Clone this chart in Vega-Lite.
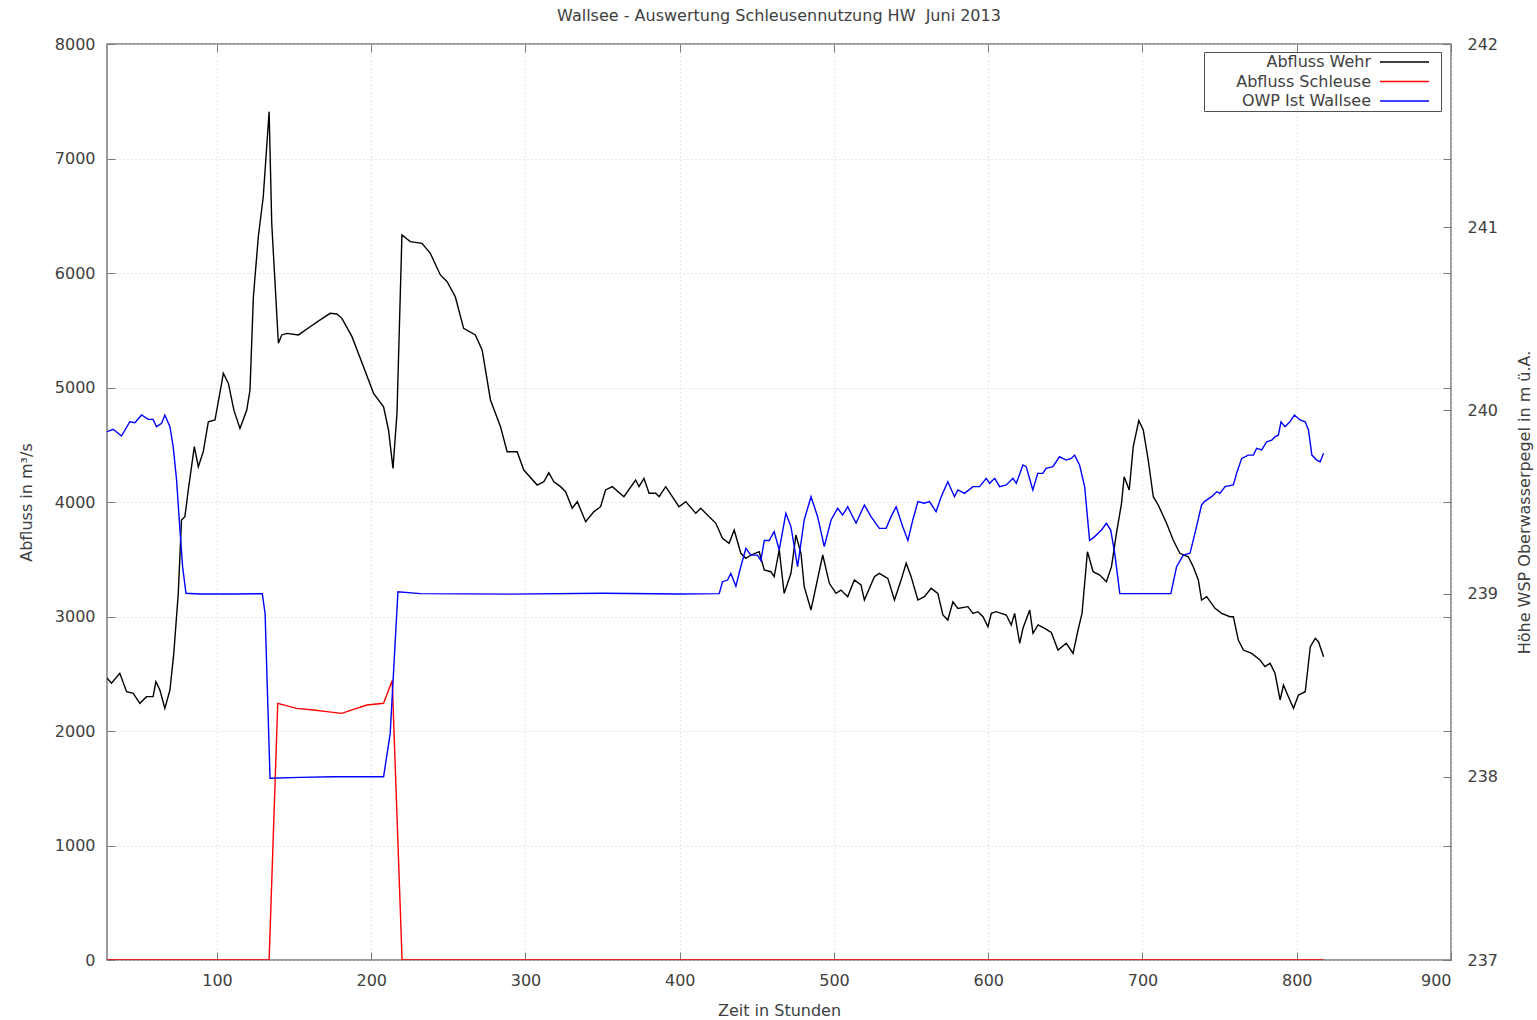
{
  "$schema": "https://vega.github.io/schema/vega-lite/v6.json",
  "width": 1344,
  "height": 916,
  "autosize": "none",
  "padding": {"left": 107, "top": 44, "right": 86, "bottom": 60},
  "background": "white",
  "title": {
    "text": "Wallsee - Auswertung Schleusennutzung HW \u00a0Juni 2013",
    "font": "DejaVu Sans",
    "fontSize": 16,
    "fontWeight": "normal",
    "color": "#404040",
    "offset": 12
  },
  "config": {
    "view": {"stroke": "#7a7a7a", "strokeWidth": 1.5},
    "axis": {
      "labelFont": "DejaVu Sans",
      "labelFontSize": 16,
      "labelColor": "#404040",
      "titleFont": "DejaVu Sans",
      "titleFontSize": 16,
      "titleFontWeight": "normal",
      "titleColor": "#404040",
      "domain": false,
      "tickColor": "#7a7a7a",
      "tickSize": -8,
      "tickWidth": 1,
      "gridColor": "#d0d0d0",
      "gridDash": [1, 3],
      "gridWidth": 1
    },
    "legend": {
      "orient": "none",
      "legendX": 1097,
      "legendY": 8,
      "padding": 2,
      "strokeColor": "#505050",
      "labelFont": "DejaVu Sans",
      "labelFontSize": 16,
      "labelColor": "#404040",
      "symbolType": "M0,0H9.8M11.2,0",
      "symbolSize": 100,
      "symbolStrokeWidth": 1.5,
      "labelAlign": "right",
      "labelOffset": -17,
      "symbolOffset": 166,
      "rowPadding": 3.5
    },
    "line": {"strokeWidth": 1.4}
  },
  "data": {
    "values": [
      {"t": 28.7, "q": 2463, "s": "Abfluss Wehr"},
      {"t": 31.6, "q": 2417, "s": "Abfluss Wehr"},
      {"t": 37, "q": 2504, "s": "Abfluss Wehr"},
      {"t": 41.4, "q": 2343, "s": "Abfluss Wehr"},
      {"t": 45.7, "q": 2329, "s": "Abfluss Wehr"},
      {"t": 50, "q": 2242, "s": "Abfluss Wehr"},
      {"t": 54.3, "q": 2300, "s": "Abfluss Wehr"},
      {"t": 58.6, "q": 2300, "s": "Abfluss Wehr"},
      {"t": 60.4, "q": 2431, "s": "Abfluss Wehr"},
      {"t": 63, "q": 2358, "s": "Abfluss Wehr"},
      {"t": 66.2, "q": 2198, "s": "Abfluss Wehr"},
      {"t": 69.5, "q": 2358, "s": "Abfluss Wehr"},
      {"t": 72, "q": 2678, "s": "Abfluss Wehr"},
      {"t": 74.9, "q": 3202, "s": "Abfluss Wehr"},
      {"t": 77, "q": 3843, "s": "Abfluss Wehr"},
      {"t": 79.2, "q": 3872, "s": "Abfluss Wehr"},
      {"t": 81.4, "q": 4105, "s": "Abfluss Wehr"},
      {"t": 85.3, "q": 4483, "s": "Abfluss Wehr"},
      {"t": 87.9, "q": 4308, "s": "Abfluss Wehr"},
      {"t": 91.1, "q": 4439, "s": "Abfluss Wehr"},
      {"t": 94.4, "q": 4701, "s": "Abfluss Wehr"},
      {"t": 98.7, "q": 4716, "s": "Abfluss Wehr"},
      {"t": 103, "q": 5037, "s": "Abfluss Wehr"},
      {"t": 104.1, "q": 5124, "s": "Abfluss Wehr"},
      {"t": 107.4, "q": 5036, "s": "Abfluss Wehr"},
      {"t": 111, "q": 4800, "s": "Abfluss Wehr"},
      {"t": 114.9, "q": 4643, "s": "Abfluss Wehr"},
      {"t": 119.3, "q": 4803, "s": "Abfluss Wehr"},
      {"t": 121.4, "q": 4978, "s": "Abfluss Wehr"},
      {"t": 123.6, "q": 5793, "s": "Abfluss Wehr"},
      {"t": 126.8, "q": 6317, "s": "Abfluss Wehr"},
      {"t": 130, "q": 6666, "s": "Abfluss Wehr"},
      {"t": 133.8, "q": 7409, "s": "Abfluss Wehr"},
      {"t": 135.5, "q": 6434, "s": "Abfluss Wehr"},
      {"t": 139.8, "q": 5386, "s": "Abfluss Wehr"},
      {"t": 142, "q": 5459, "s": "Abfluss Wehr"},
      {"t": 145.3, "q": 5473, "s": "Abfluss Wehr"},
      {"t": 152.8, "q": 5459, "s": "Abfluss Wehr"},
      {"t": 160.4, "q": 5531, "s": "Abfluss Wehr"},
      {"t": 166.9, "q": 5590, "s": "Abfluss Wehr"},
      {"t": 173.4, "q": 5648, "s": "Abfluss Wehr"},
      {"t": 177.7, "q": 5642, "s": "Abfluss Wehr"},
      {"t": 181, "q": 5604, "s": "Abfluss Wehr"},
      {"t": 187.5, "q": 5444, "s": "Abfluss Wehr"},
      {"t": 195, "q": 5182, "s": "Abfluss Wehr"},
      {"t": 201.5, "q": 4949, "s": "Abfluss Wehr"},
      {"t": 208, "q": 4832, "s": "Abfluss Wehr"},
      {"t": 211.2, "q": 4629, "s": "Abfluss Wehr"},
      {"t": 214.1, "q": 4294, "s": "Abfluss Wehr"},
      {"t": 216.7, "q": 4774, "s": "Abfluss Wehr"},
      {"t": 219.9, "q": 6332, "s": "Abfluss Wehr"},
      {"t": 225.3, "q": 6274, "s": "Abfluss Wehr"},
      {"t": 232.9, "q": 6259, "s": "Abfluss Wehr"},
      {"t": 238.3, "q": 6172, "s": "Abfluss Wehr"},
      {"t": 244.8, "q": 5983, "s": "Abfluss Wehr"},
      {"t": 249.2, "q": 5924, "s": "Abfluss Wehr"},
      {"t": 254.5, "q": 5793, "s": "Abfluss Wehr"},
      {"t": 259.9, "q": 5517, "s": "Abfluss Wehr"},
      {"t": 267.5, "q": 5459, "s": "Abfluss Wehr"},
      {"t": 271.9, "q": 5328, "s": "Abfluss Wehr"},
      {"t": 277.3, "q": 4891, "s": "Abfluss Wehr"},
      {"t": 283.8, "q": 4658, "s": "Abfluss Wehr"},
      {"t": 288.1, "q": 4439, "s": "Abfluss Wehr"},
      {"t": 294.6, "q": 4439, "s": "Abfluss Wehr"},
      {"t": 298.9, "q": 4279, "s": "Abfluss Wehr"},
      {"t": 307.6, "q": 4148, "s": "Abfluss Wehr"},
      {"t": 311.9, "q": 4177, "s": "Abfluss Wehr"},
      {"t": 315.1, "q": 4256, "s": "Abfluss Wehr"},
      {"t": 318.4, "q": 4177, "s": "Abfluss Wehr"},
      {"t": 322.7, "q": 4134, "s": "Abfluss Wehr"},
      {"t": 326, "q": 4090, "s": "Abfluss Wehr"},
      {"t": 330.3, "q": 3945, "s": "Abfluss Wehr"},
      {"t": 333.6, "q": 4003, "s": "Abfluss Wehr"},
      {"t": 339, "q": 3828, "s": "Abfluss Wehr"},
      {"t": 344.4, "q": 3916, "s": "Abfluss Wehr"},
      {"t": 348.7, "q": 3959, "s": "Abfluss Wehr"},
      {"t": 351.9, "q": 4105, "s": "Abfluss Wehr"},
      {"t": 356.3, "q": 4134, "s": "Abfluss Wehr"},
      {"t": 363.8, "q": 4046, "s": "Abfluss Wehr"},
      {"t": 371.4, "q": 4192, "s": "Abfluss Wehr"},
      {"t": 373.6, "q": 4134, "s": "Abfluss Wehr"},
      {"t": 376.8, "q": 4207, "s": "Abfluss Wehr"},
      {"t": 380.1, "q": 4076, "s": "Abfluss Wehr"},
      {"t": 384.4, "q": 4076, "s": "Abfluss Wehr"},
      {"t": 386.6, "q": 4046, "s": "Abfluss Wehr"},
      {"t": 390.9, "q": 4134, "s": "Abfluss Wehr"},
      {"t": 399.5, "q": 3959, "s": "Abfluss Wehr"},
      {"t": 403.9, "q": 4003, "s": "Abfluss Wehr"},
      {"t": 410.4, "q": 3901, "s": "Abfluss Wehr"},
      {"t": 413.6, "q": 3945, "s": "Abfluss Wehr"},
      {"t": 423.4, "q": 3814, "s": "Abfluss Wehr"},
      {"t": 427.7, "q": 3683, "s": "Abfluss Wehr"},
      {"t": 432, "q": 3639, "s": "Abfluss Wehr"},
      {"t": 435.3, "q": 3755, "s": "Abfluss Wehr"},
      {"t": 439.6, "q": 3552, "s": "Abfluss Wehr"},
      {"t": 442.9, "q": 3508, "s": "Abfluss Wehr"},
      {"t": 446.1, "q": 3537, "s": "Abfluss Wehr"},
      {"t": 451.5, "q": 3566, "s": "Abfluss Wehr"},
      {"t": 454.8, "q": 3406, "s": "Abfluss Wehr"},
      {"t": 459.1, "q": 3391, "s": "Abfluss Wehr"},
      {"t": 461.2, "q": 3348, "s": "Abfluss Wehr"},
      {"t": 464.5, "q": 3581, "s": "Abfluss Wehr"},
      {"t": 467.7, "q": 3202, "s": "Abfluss Wehr"},
      {"t": 472.1, "q": 3377, "s": "Abfluss Wehr"},
      {"t": 475.3, "q": 3712, "s": "Abfluss Wehr"},
      {"t": 478.6, "q": 3552, "s": "Abfluss Wehr"},
      {"t": 480.7, "q": 3260, "s": "Abfluss Wehr"},
      {"t": 485.1, "q": 3057, "s": "Abfluss Wehr"},
      {"t": 488.3, "q": 3260, "s": "Abfluss Wehr"},
      {"t": 492.7, "q": 3537, "s": "Abfluss Wehr"},
      {"t": 497, "q": 3290, "s": "Abfluss Wehr"},
      {"t": 501.3, "q": 3202, "s": "Abfluss Wehr"},
      {"t": 504.5, "q": 3231, "s": "Abfluss Wehr"},
      {"t": 508.9, "q": 3173, "s": "Abfluss Wehr"},
      {"t": 513.2, "q": 3319, "s": "Abfluss Wehr"},
      {"t": 517.5, "q": 3275, "s": "Abfluss Wehr"},
      {"t": 519.7, "q": 3144, "s": "Abfluss Wehr"},
      {"t": 526.2, "q": 3348, "s": "Abfluss Wehr"},
      {"t": 529.4, "q": 3377, "s": "Abfluss Wehr"},
      {"t": 534.9, "q": 3333, "s": "Abfluss Wehr"},
      {"t": 539.2, "q": 3144, "s": "Abfluss Wehr"},
      {"t": 543.5, "q": 3319, "s": "Abfluss Wehr"},
      {"t": 546.8, "q": 3465, "s": "Abfluss Wehr"},
      {"t": 550, "q": 3348, "s": "Abfluss Wehr"},
      {"t": 554.4, "q": 3144, "s": "Abfluss Wehr"},
      {"t": 558.6, "q": 3173, "s": "Abfluss Wehr"},
      {"t": 563, "q": 3246, "s": "Abfluss Wehr"},
      {"t": 567.3, "q": 3202, "s": "Abfluss Wehr"},
      {"t": 570.6, "q": 3013, "s": "Abfluss Wehr"},
      {"t": 573.8, "q": 2969, "s": "Abfluss Wehr"},
      {"t": 577.1, "q": 3129, "s": "Abfluss Wehr"},
      {"t": 580.3, "q": 3071, "s": "Abfluss Wehr"},
      {"t": 586.8, "q": 3086, "s": "Abfluss Wehr"},
      {"t": 590.1, "q": 3027, "s": "Abfluss Wehr"},
      {"t": 593.3, "q": 3042, "s": "Abfluss Wehr"},
      {"t": 596.6, "q": 2998, "s": "Abfluss Wehr"},
      {"t": 599.8, "q": 2911, "s": "Abfluss Wehr"},
      {"t": 602, "q": 3027, "s": "Abfluss Wehr"},
      {"t": 605.2, "q": 3042, "s": "Abfluss Wehr"},
      {"t": 608.4, "q": 3027, "s": "Abfluss Wehr"},
      {"t": 611.7, "q": 3013, "s": "Abfluss Wehr"},
      {"t": 614.9, "q": 2926, "s": "Abfluss Wehr"},
      {"t": 617.1, "q": 3027, "s": "Abfluss Wehr"},
      {"t": 620.4, "q": 2766, "s": "Abfluss Wehr"},
      {"t": 622.5, "q": 2897, "s": "Abfluss Wehr"},
      {"t": 626.9, "q": 3057, "s": "Abfluss Wehr"},
      {"t": 629, "q": 2853, "s": "Abfluss Wehr"},
      {"t": 632.3, "q": 2926, "s": "Abfluss Wehr"},
      {"t": 636.6, "q": 2897, "s": "Abfluss Wehr"},
      {"t": 640.9, "q": 2860, "s": "Abfluss Wehr"},
      {"t": 645.2, "q": 2707, "s": "Abfluss Wehr"},
      {"t": 650.6, "q": 2766, "s": "Abfluss Wehr"},
      {"t": 655, "q": 2678, "s": "Abfluss Wehr"},
      {"t": 658.2, "q": 2882, "s": "Abfluss Wehr"},
      {"t": 660.8, "q": 3027, "s": "Abfluss Wehr"},
      {"t": 664.3, "q": 3566, "s": "Abfluss Wehr"},
      {"t": 668, "q": 3391, "s": "Abfluss Wehr"},
      {"t": 672.3, "q": 3362, "s": "Abfluss Wehr"},
      {"t": 676.6, "q": 3304, "s": "Abfluss Wehr"},
      {"t": 679.9, "q": 3435, "s": "Abfluss Wehr"},
      {"t": 683.1, "q": 3726, "s": "Abfluss Wehr"},
      {"t": 686.4, "q": 3988, "s": "Abfluss Wehr"},
      {"t": 688.1, "q": 4221, "s": "Abfluss Wehr"},
      {"t": 691.4, "q": 4105, "s": "Abfluss Wehr"},
      {"t": 694, "q": 4483, "s": "Abfluss Wehr"},
      {"t": 697.6, "q": 4710, "s": "Abfluss Wehr"},
      {"t": 700.5, "q": 4629, "s": "Abfluss Wehr"},
      {"t": 703.7, "q": 4367, "s": "Abfluss Wehr"},
      {"t": 707, "q": 4046, "s": "Abfluss Wehr"},
      {"t": 710.2, "q": 3974, "s": "Abfluss Wehr"},
      {"t": 715.6, "q": 3814, "s": "Abfluss Wehr"},
      {"t": 719.9, "q": 3668, "s": "Abfluss Wehr"},
      {"t": 724.2, "q": 3552, "s": "Abfluss Wehr"},
      {"t": 729.7, "q": 3522, "s": "Abfluss Wehr"},
      {"t": 732.9, "q": 3435, "s": "Abfluss Wehr"},
      {"t": 736.2, "q": 3319, "s": "Abfluss Wehr"},
      {"t": 738.3, "q": 3144, "s": "Abfluss Wehr"},
      {"t": 741.6, "q": 3173, "s": "Abfluss Wehr"},
      {"t": 747, "q": 3071, "s": "Abfluss Wehr"},
      {"t": 751.3, "q": 3027, "s": "Abfluss Wehr"},
      {"t": 756.7, "q": 2998, "s": "Abfluss Wehr"},
      {"t": 758.9, "q": 2998, "s": "Abfluss Wehr"},
      {"t": 762.1, "q": 2795, "s": "Abfluss Wehr"},
      {"t": 765.4, "q": 2707, "s": "Abfluss Wehr"},
      {"t": 770.8, "q": 2678, "s": "Abfluss Wehr"},
      {"t": 776.2, "q": 2620, "s": "Abfluss Wehr"},
      {"t": 779.4, "q": 2562, "s": "Abfluss Wehr"},
      {"t": 782.7, "q": 2591, "s": "Abfluss Wehr"},
      {"t": 785.9, "q": 2504, "s": "Abfluss Wehr"},
      {"t": 789.2, "q": 2271, "s": "Abfluss Wehr"},
      {"t": 791.4, "q": 2402, "s": "Abfluss Wehr"},
      {"t": 794.6, "q": 2300, "s": "Abfluss Wehr"},
      {"t": 797.9, "q": 2198, "s": "Abfluss Wehr"},
      {"t": 801.1, "q": 2314, "s": "Abfluss Wehr"},
      {"t": 805.5, "q": 2343, "s": "Abfluss Wehr"},
      {"t": 808.8, "q": 2736, "s": "Abfluss Wehr"},
      {"t": 812, "q": 2809, "s": "Abfluss Wehr"},
      {"t": 814.1, "q": 2780, "s": "Abfluss Wehr"},
      {"t": 817.4, "q": 2649, "s": "Abfluss Wehr"},

      {"t": 28.7, "q": 0, "s": "Abfluss Schleuse"},
      {"t": 133.8, "q": 0, "s": "Abfluss Schleuse"},
      {"t": 139.4, "q": 2242, "s": "Abfluss Schleuse"},
      {"t": 151.6, "q": 2198, "s": "Abfluss Schleuse"},
      {"t": 162.5, "q": 2183, "s": "Abfluss Schleuse"},
      {"t": 171.2, "q": 2169, "s": "Abfluss Schleuse"},
      {"t": 180.9, "q": 2154, "s": "Abfluss Schleuse"},
      {"t": 188.5, "q": 2189, "s": "Abfluss Schleuse"},
      {"t": 197.2, "q": 2227, "s": "Abfluss Schleuse"},
      {"t": 208, "q": 2242, "s": "Abfluss Schleuse"},
      {"t": 213.6, "q": 2440, "s": "Abfluss Schleuse"},
      {"t": 220, "q": 0, "s": "Abfluss Schleuse"},
      {"t": 817.4, "q": 0, "s": "Abfluss Schleuse"},

      {"t": 28.7, "q": 239.884, "s": "OWP Ist Wallsee"},
      {"t": 32.7, "q": 239.897, "s": "OWP Ist Wallsee"},
      {"t": 38.1, "q": 239.86, "s": "OWP Ist Wallsee"},
      {"t": 43.5, "q": 239.938, "s": "OWP Ist Wallsee"},
      {"t": 46.8, "q": 239.933, "s": "OWP Ist Wallsee"},
      {"t": 51.1, "q": 239.975, "s": "OWP Ist Wallsee"},
      {"t": 55.4, "q": 239.951, "s": "OWP Ist Wallsee"},
      {"t": 58.6, "q": 239.951, "s": "OWP Ist Wallsee"},
      {"t": 60.8, "q": 239.911, "s": "OWP Ist Wallsee"},
      {"t": 64.1, "q": 239.929, "s": "OWP Ist Wallsee"},
      {"t": 66.2, "q": 239.975, "s": "OWP Ist Wallsee"},
      {"t": 69.5, "q": 239.911, "s": "OWP Ist Wallsee"},
      {"t": 71.6, "q": 239.802, "s": "OWP Ist Wallsee"},
      {"t": 73.8, "q": 239.62, "s": "OWP Ist Wallsee"},
      {"t": 76, "q": 239.347, "s": "OWP Ist Wallsee"},
      {"t": 77.7, "q": 239.147, "s": "OWP Ist Wallsee"},
      {"t": 79.9, "q": 239.002, "s": "OWP Ist Wallsee"},
      {"t": 89, "q": 238.998, "s": "OWP Ist Wallsee"},
      {"t": 110.6, "q": 238.998, "s": "OWP Ist Wallsee"},
      {"t": 129.4, "q": 239.0, "s": "OWP Ist Wallsee"},
      {"t": 131.2, "q": 238.89, "s": "OWP Ist Wallsee"},
      {"t": 134.4, "q": 237.992, "s": "OWP Ist Wallsee"},
      {"t": 153.9, "q": 237.997, "s": "OWP Ist Wallsee"},
      {"t": 175.5, "q": 238.0, "s": "OWP Ist Wallsee"},
      {"t": 208, "q": 238.0, "s": "OWP Ist Wallsee"},
      {"t": 212.3, "q": 238.237, "s": "OWP Ist Wallsee"},
      {"t": 217.3, "q": 239.01, "s": "OWP Ist Wallsee"},
      {"t": 231.8, "q": 239.0, "s": "OWP Ist Wallsee"},
      {"t": 290, "q": 238.997, "s": "OWP Ist Wallsee"},
      {"t": 350, "q": 239.002, "s": "OWP Ist Wallsee"},
      {"t": 400, "q": 238.998, "s": "OWP Ist Wallsee"},
      {"t": 425.6, "q": 239.0, "s": "OWP Ist Wallsee"},
      {"t": 427.7, "q": 239.065, "s": "OWP Ist Wallsee"},
      {"t": 431, "q": 239.074, "s": "OWP Ist Wallsee"},
      {"t": 433.1, "q": 239.11, "s": "OWP Ist Wallsee"},
      {"t": 436.4, "q": 239.04, "s": "OWP Ist Wallsee"},
      {"t": 439.6, "q": 239.148, "s": "OWP Ist Wallsee"},
      {"t": 442.9, "q": 239.247, "s": "OWP Ist Wallsee"},
      {"t": 446.1, "q": 239.21, "s": "OWP Ist Wallsee"},
      {"t": 450.4, "q": 239.21, "s": "OWP Ist Wallsee"},
      {"t": 452.6, "q": 239.18, "s": "OWP Ist Wallsee"},
      {"t": 454.8, "q": 239.29, "s": "OWP Ist Wallsee"},
      {"t": 458, "q": 239.29, "s": "OWP Ist Wallsee"},
      {"t": 461.2, "q": 239.338, "s": "OWP Ist Wallsee"},
      {"t": 464.5, "q": 239.238, "s": "OWP Ist Wallsee"},
      {"t": 468.8, "q": 239.438, "s": "OWP Ist Wallsee"},
      {"t": 472.1, "q": 239.365, "s": "OWP Ist Wallsee"},
      {"t": 476.4, "q": 239.147, "s": "OWP Ist Wallsee"},
      {"t": 480.7, "q": 239.402, "s": "OWP Ist Wallsee"},
      {"t": 485.1, "q": 239.529, "s": "OWP Ist Wallsee"},
      {"t": 489.4, "q": 239.42, "s": "OWP Ist Wallsee"},
      {"t": 493.7, "q": 239.256, "s": "OWP Ist Wallsee"},
      {"t": 498.1, "q": 239.402, "s": "OWP Ist Wallsee"},
      {"t": 502.4, "q": 239.466, "s": "OWP Ist Wallsee"},
      {"t": 505.6, "q": 239.429, "s": "OWP Ist Wallsee"},
      {"t": 508.9, "q": 239.474, "s": "OWP Ist Wallsee"},
      {"t": 514.3, "q": 239.384, "s": "OWP Ist Wallsee"},
      {"t": 519.7, "q": 239.484, "s": "OWP Ist Wallsee"},
      {"t": 524, "q": 239.42, "s": "OWP Ist Wallsee"},
      {"t": 529.4, "q": 239.356, "s": "OWP Ist Wallsee"},
      {"t": 533.8, "q": 239.356, "s": "OWP Ist Wallsee"},
      {"t": 537, "q": 239.42, "s": "OWP Ist Wallsee"},
      {"t": 540.3, "q": 239.474, "s": "OWP Ist Wallsee"},
      {"t": 544.6, "q": 239.365, "s": "OWP Ist Wallsee"},
      {"t": 547.9, "q": 239.29, "s": "OWP Ist Wallsee"},
      {"t": 551.1, "q": 239.402, "s": "OWP Ist Wallsee"},
      {"t": 554.4, "q": 239.502, "s": "OWP Ist Wallsee"},
      {"t": 558.6, "q": 239.493, "s": "OWP Ist Wallsee"},
      {"t": 561.9, "q": 239.502, "s": "OWP Ist Wallsee"},
      {"t": 566.2, "q": 239.447, "s": "OWP Ist Wallsee"},
      {"t": 569.5, "q": 239.529, "s": "OWP Ist Wallsee"},
      {"t": 573.8, "q": 239.611, "s": "OWP Ist Wallsee"},
      {"t": 578.1, "q": 239.529, "s": "OWP Ist Wallsee"},
      {"t": 580.3, "q": 239.566, "s": "OWP Ist Wallsee"},
      {"t": 584.6, "q": 239.547, "s": "OWP Ist Wallsee"},
      {"t": 590.1, "q": 239.584, "s": "OWP Ist Wallsee"},
      {"t": 594.4, "q": 239.584, "s": "OWP Ist Wallsee"},
      {"t": 598.7, "q": 239.629, "s": "OWP Ist Wallsee"},
      {"t": 600.9, "q": 239.602, "s": "OWP Ist Wallsee"},
      {"t": 604.2, "q": 239.629, "s": "OWP Ist Wallsee"},
      {"t": 607.4, "q": 239.584, "s": "OWP Ist Wallsee"},
      {"t": 611.7, "q": 239.593, "s": "OWP Ist Wallsee"},
      {"t": 616, "q": 239.629, "s": "OWP Ist Wallsee"},
      {"t": 618.2, "q": 239.602, "s": "OWP Ist Wallsee"},
      {"t": 622.5, "q": 239.702, "s": "OWP Ist Wallsee"},
      {"t": 624.6, "q": 239.693, "s": "OWP Ist Wallsee"},
      {"t": 628.9, "q": 239.566, "s": "OWP Ist Wallsee"},
      {"t": 632.1, "q": 239.656, "s": "OWP Ist Wallsee"},
      {"t": 635.4, "q": 239.656, "s": "OWP Ist Wallsee"},
      {"t": 637.5, "q": 239.684, "s": "OWP Ist Wallsee"},
      {"t": 641.9, "q": 239.693, "s": "OWP Ist Wallsee"},
      {"t": 646.2, "q": 239.747, "s": "OWP Ist Wallsee"},
      {"t": 650.5, "q": 239.729, "s": "OWP Ist Wallsee"},
      {"t": 653.8, "q": 239.738, "s": "OWP Ist Wallsee"},
      {"t": 656, "q": 239.756, "s": "OWP Ist Wallsee"},
      {"t": 659.2, "q": 239.702, "s": "OWP Ist Wallsee"},
      {"t": 662.5, "q": 239.584, "s": "OWP Ist Wallsee"},
      {"t": 665.7, "q": 239.29, "s": "OWP Ist Wallsee"},
      {"t": 669, "q": 239.311, "s": "OWP Ist Wallsee"},
      {"t": 673.4, "q": 239.347, "s": "OWP Ist Wallsee"},
      {"t": 676.6, "q": 239.384, "s": "OWP Ist Wallsee"},
      {"t": 679.4, "q": 239.347, "s": "OWP Ist Wallsee"},
      {"t": 682, "q": 239.22, "s": "OWP Ist Wallsee"},
      {"t": 685.3, "q": 239.0, "s": "OWP Ist Wallsee"},
      {"t": 701.5, "q": 239.0, "s": "OWP Ist Wallsee"},
      {"t": 718.4, "q": 239.0, "s": "OWP Ist Wallsee"},
      {"t": 722.1, "q": 239.147, "s": "OWP Ist Wallsee"},
      {"t": 726.4, "q": 239.21, "s": "OWP Ist Wallsee"},
      {"t": 730.8, "q": 239.22, "s": "OWP Ist Wallsee"},
      {"t": 734, "q": 239.329, "s": "OWP Ist Wallsee"},
      {"t": 738.3, "q": 239.484, "s": "OWP Ist Wallsee"},
      {"t": 740.1, "q": 239.502, "s": "OWP Ist Wallsee"},
      {"t": 744.8, "q": 239.529, "s": "OWP Ist Wallsee"},
      {"t": 748.1, "q": 239.556, "s": "OWP Ist Wallsee"},
      {"t": 750.2, "q": 239.547, "s": "OWP Ist Wallsee"},
      {"t": 753.5, "q": 239.584, "s": "OWP Ist Wallsee"},
      {"t": 758.9, "q": 239.593, "s": "OWP Ist Wallsee"},
      {"t": 761, "q": 239.656, "s": "OWP Ist Wallsee"},
      {"t": 764.3, "q": 239.738, "s": "OWP Ist Wallsee"},
      {"t": 768.6, "q": 239.756, "s": "OWP Ist Wallsee"},
      {"t": 771.9, "q": 239.756, "s": "OWP Ist Wallsee"},
      {"t": 774, "q": 239.793, "s": "OWP Ist Wallsee"},
      {"t": 777.3, "q": 239.784, "s": "OWP Ist Wallsee"},
      {"t": 780.5, "q": 239.829, "s": "OWP Ist Wallsee"},
      {"t": 783.8, "q": 239.838, "s": "OWP Ist Wallsee"},
      {"t": 785.9, "q": 239.856, "s": "OWP Ist Wallsee"},
      {"t": 788.1, "q": 239.866, "s": "OWP Ist Wallsee"},
      {"t": 789.8, "q": 239.938, "s": "OWP Ist Wallsee"},
      {"t": 792.4, "q": 239.911, "s": "OWP Ist Wallsee"},
      {"t": 795.6, "q": 239.938, "s": "OWP Ist Wallsee"},
      {"t": 798.5, "q": 239.975, "s": "OWP Ist Wallsee"},
      {"t": 802.1, "q": 239.948, "s": "OWP Ist Wallsee"},
      {"t": 805.5, "q": 239.938, "s": "OWP Ist Wallsee"},
      {"t": 807.6, "q": 239.893, "s": "OWP Ist Wallsee"},
      {"t": 809.8, "q": 239.756, "s": "OWP Ist Wallsee"},
      {"t": 813, "q": 239.729, "s": "OWP Ist Wallsee"},
      {"t": 815.2, "q": 239.72, "s": "OWP Ist Wallsee"},
      {"t": 817.4, "q": 239.766, "s": "OWP Ist Wallsee"}
    ]
  },
  "resolve": {"scale": {"y": "independent"}, "axis": {"x": "independent"}},
  "layer": [
    {
      "transform": [{"filter": "datum.s === 'Abfluss Wehr'"}],
      "mark": {"type": "line", "clip": true},
      "encoding": {
        "x": {
          "field": "t", "type": "quantitative",
          "scale": {"domain": [28.7, 900], "nice": false, "zero": false},
          "axis": {"orient": "bottom", "values": [100, 200, 300, 400, 500, 600, 700, 800, 900], "format": "d", "grid": true, "title": "Zeit in Stunden", "labelPadding": 20, "titlePadding": 14}
        },
        "y": {
          "field": "q", "type": "quantitative",
          "scale": {"domain": [0, 8000], "nice": false},
          "axis": {"orient": "left", "values": [0, 1000, 2000, 3000, 4000, 5000, 6000, 7000, 8000], "format": "d", "grid": true, "title": "Abfluss in m³/s", "labelPadding": 20, "titlePadding": 20}
        },
        "color": {
          "field": "s", "type": "nominal",
          "scale": {"domain": ["Abfluss Wehr", "Abfluss Schleuse", "OWP Ist Wallsee"], "range": ["#000000", "#ff0000", "#0000ff"]},
          "legend": {"title": null}
        }
      }
    },
    {
      "transform": [{"filter": "datum.s === 'Abfluss Schleuse'"}],
      "mark": {"type": "line", "clip": true},
      "encoding": {
        "x": {
          "field": "t", "type": "quantitative",
          "scale": {"domain": [28.7, 900], "nice": false, "zero": false},
          "axis": {"orient": "top", "values": [100, 200, 300, 400, 500, 600, 700, 800, 900], "labels": false, "grid": false, "title": null}
        },
        "y": {
          "field": "q", "type": "quantitative",
          "scale": {"domain": [0, 8000], "nice": false},
          "axis": {"orient": "right", "values": [0, 1000, 2000, 3000, 4000, 5000, 6000, 7000, 8000], "labels": false, "grid": false, "title": null}
        },
        "color": {"field": "s", "type": "nominal"}
      }
    },
    {
      "transform": [{"filter": "datum.s === 'OWP Ist Wallsee'"}],
      "mark": {"type": "line", "clip": true},
      "encoding": {
        "x": {
          "field": "t", "type": "quantitative",
          "scale": {"domain": [28.7, 900], "nice": false, "zero": false},
          "axis": null
        },
        "y": {
          "field": "q", "type": "quantitative",
          "scale": {"domain": [237, 242], "nice": false, "zero": false},
          "axis": {"orient": "right", "values": [237, 238, 239, 240, 241, 242], "format": "d", "grid": false, "title": "Höhe WSP Oberwasserpegel in m ü.A.", "titleAngle": 270, "labelPadding": 24, "titlePadding": 35}
        },
        "color": {"field": "s", "type": "nominal"}
      }
    }
  ]
}
